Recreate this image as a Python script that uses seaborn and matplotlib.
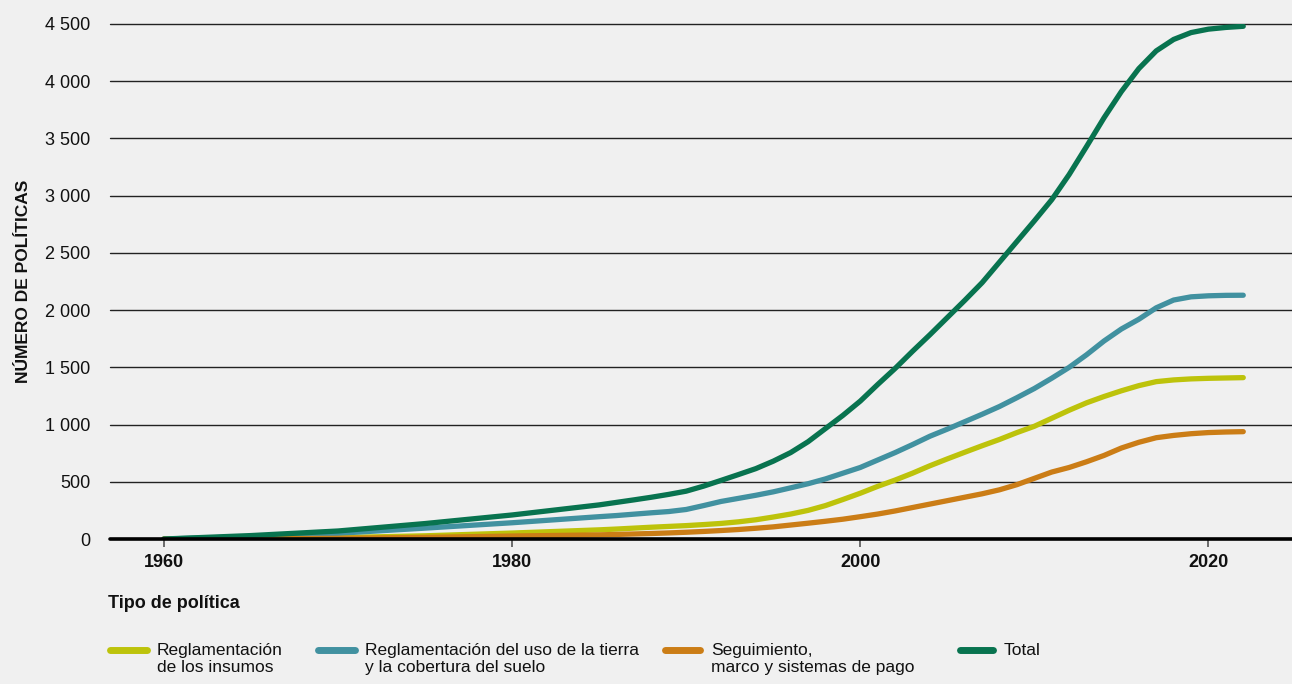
import matplotlib
matplotlib.use("Agg")
import matplotlib.pyplot as plt
from matplotlib.lines import Line2D
from matplotlib.ticker import FuncFormatter
import seaborn as sns
import pandas as pd

# Cumulative number of policies by type
years = [1960, 1965, 1970, 1975, 1980,
         1985, 1986, 1987, 1988, 1989, 1990, 1991, 1992, 1993, 1994,
         1995, 1996, 1997, 1998, 1999, 2000, 2001, 2002, 2003, 2004,
         2005, 2006, 2007, 2008, 2009, 2010, 2011, 2012, 2013, 2014,
         2015, 2016, 2017, 2018, 2019, 2020, 2021, 2022]
insumos = [0, 5, 12, 28, 52,
           80, 87, 95, 103, 110, 117, 126, 136, 150, 168,
           192, 218, 250, 292, 345, 400, 460, 515, 575, 640,
           700, 758, 815, 870, 930, 985, 1055, 1125, 1190, 1245,
           1295, 1340, 1375, 1390, 1399, 1404, 1407, 1410]
uso_tierra = [0, 20, 50, 95, 142,
              195, 205, 217, 229, 240, 258, 292, 328, 355, 382,
              412, 447, 483, 525, 575, 625, 690, 755, 825, 898,
              960, 1025, 1090, 1158, 1235, 1315, 1405, 1500, 1610, 1730,
              1835, 1920, 2020, 2088, 2116, 2125, 2129, 2130]
seguimiento = [0, 2, 6, 14, 26,
               36, 40, 44, 48, 53, 59, 66, 74, 83, 94,
               106, 122, 138, 155, 173, 195, 218, 245, 275, 305,
               335, 365, 395, 430, 475, 530, 585, 625, 675, 730,
               795, 845, 885, 905, 920, 930, 935, 938]
total = [0, 30, 70, 135, 210,
         298, 320, 342, 365, 390, 418, 462, 512, 563, 615,
         680, 755, 850, 965, 1080, 1205, 1350, 1490, 1640, 1785,
         1935, 2085, 2240, 2420, 2600, 2780, 2965, 3185, 3430, 3680,
         3910, 4110, 4265, 4365, 4425, 4455, 4470, 4480]

series_names = ["Reglamentación\nde los insumos",
                "Reglamentación del uso de la tierra\ny la cobertura del suelo",
                "Seguimiento,\nmarco y sistemas de pago",
                "Total"]
series_colors = ["#BDC30B", "#4191A0", "#CB7D16", "#08734F"]
x_ticks = [1960, 1980, 2000, 2020]
y_ticks = [0, 500, 1000, 1500, 2000, 2500, 3000, 3500, 4000, 4500]

frames = []
for name, vals in zip(series_names, [insumos, uso_tierra, seguimiento, total]):
    frames.append(pd.DataFrame({"year": years, "value": vals, "tipo": name}))
df = pd.concat(frames, ignore_index=True)

BG = "#F0F0F0"
INK = "#111111"
sns.set_theme(style="white")
plt.rcParams["font.family"] = ["Liberation Sans", "DejaVu Sans"]
plt.rcParams["text.color"] = INK
plt.rcParams["xtick.color"] = INK
plt.rcParams["ytick.color"] = INK
plt.rcParams["axes.labelcolor"] = INK

W, H = 1292, 684
fig = plt.figure(figsize=(W / 100, H / 100), dpi=100, facecolor=BG)
ax = fig.add_axes([110 / W, 1 - 539 / H, 1 - 110 / W, (539 - 24) / H])
ax.set_facecolor(BG)

# horizontal gridlines beneath the series
for yv in y_ticks[1:]:
    ax.axhline(yv, color="#222222", lw=1.0, zorder=1, clip_on=False)

sns.lineplot(data=df, x="year", y="value", hue="tipo", hue_order=series_names,
             palette=series_colors, linewidth=3.8, legend=False, ax=ax,
             solid_capstyle="round", solid_joinstyle="round", zorder=3)

ax.axhline(0, color="black", lw=2.6, zorder=4, clip_on=False)

ax.set_xlim(1956.9, 2024.8)
ax.set_ylim(0, 4500)
ax.set_xticks(x_ticks)
ax.set_yticks(y_ticks)
ax.yaxis.set_major_formatter(FuncFormatter(lambda v, p: f"{int(v):,}".replace(",", " ")))
ax.tick_params(axis="x", length=6, width=1.2, color="#555555", pad=5,
               labelsize=13, direction="out", bottom=True)
ax.tick_params(axis="y", length=0, pad=14, labelsize=13)
for lab in ax.get_xticklabels():
    lab.set_fontweight("bold")
for s in ax.spines.values():
    s.set_visible(False)
ax.set_xlabel("")
ax.set_ylabel("NÚMERO DE POLÍTICAS", fontweight="bold", fontsize=12.5)
ax.yaxis.set_label_coords(-0.067, 0.5)

fig.text(108 / W, 1 - 604 / H, "Tipo de política", fontweight="bold",
         fontsize=13, va="center", ha="left")

# legend: short rounded swatch followed by its label, first line aligned with the swatch
legend_slots = [(110, 147, 157), (318, 355, 365), (665, 700, 711), (960, 993, 1004)]
for (x0, x1, xt), name, col in zip(legend_slots, series_names, series_colors):
    fig.add_artist(Line2D([x0 / W, x1 / W], [1 - 650 / H, 1 - 650 / H],
                          transform=fig.transFigure, color=col, lw=5,
                          solid_capstyle="round"))
    fig.text(xt / W, 1 - 643 / H, name, fontsize=12.5, va="top", ha="left",
             linespacing=1.2)

fig.savefig("out.png", dpi=100, facecolor=BG)
